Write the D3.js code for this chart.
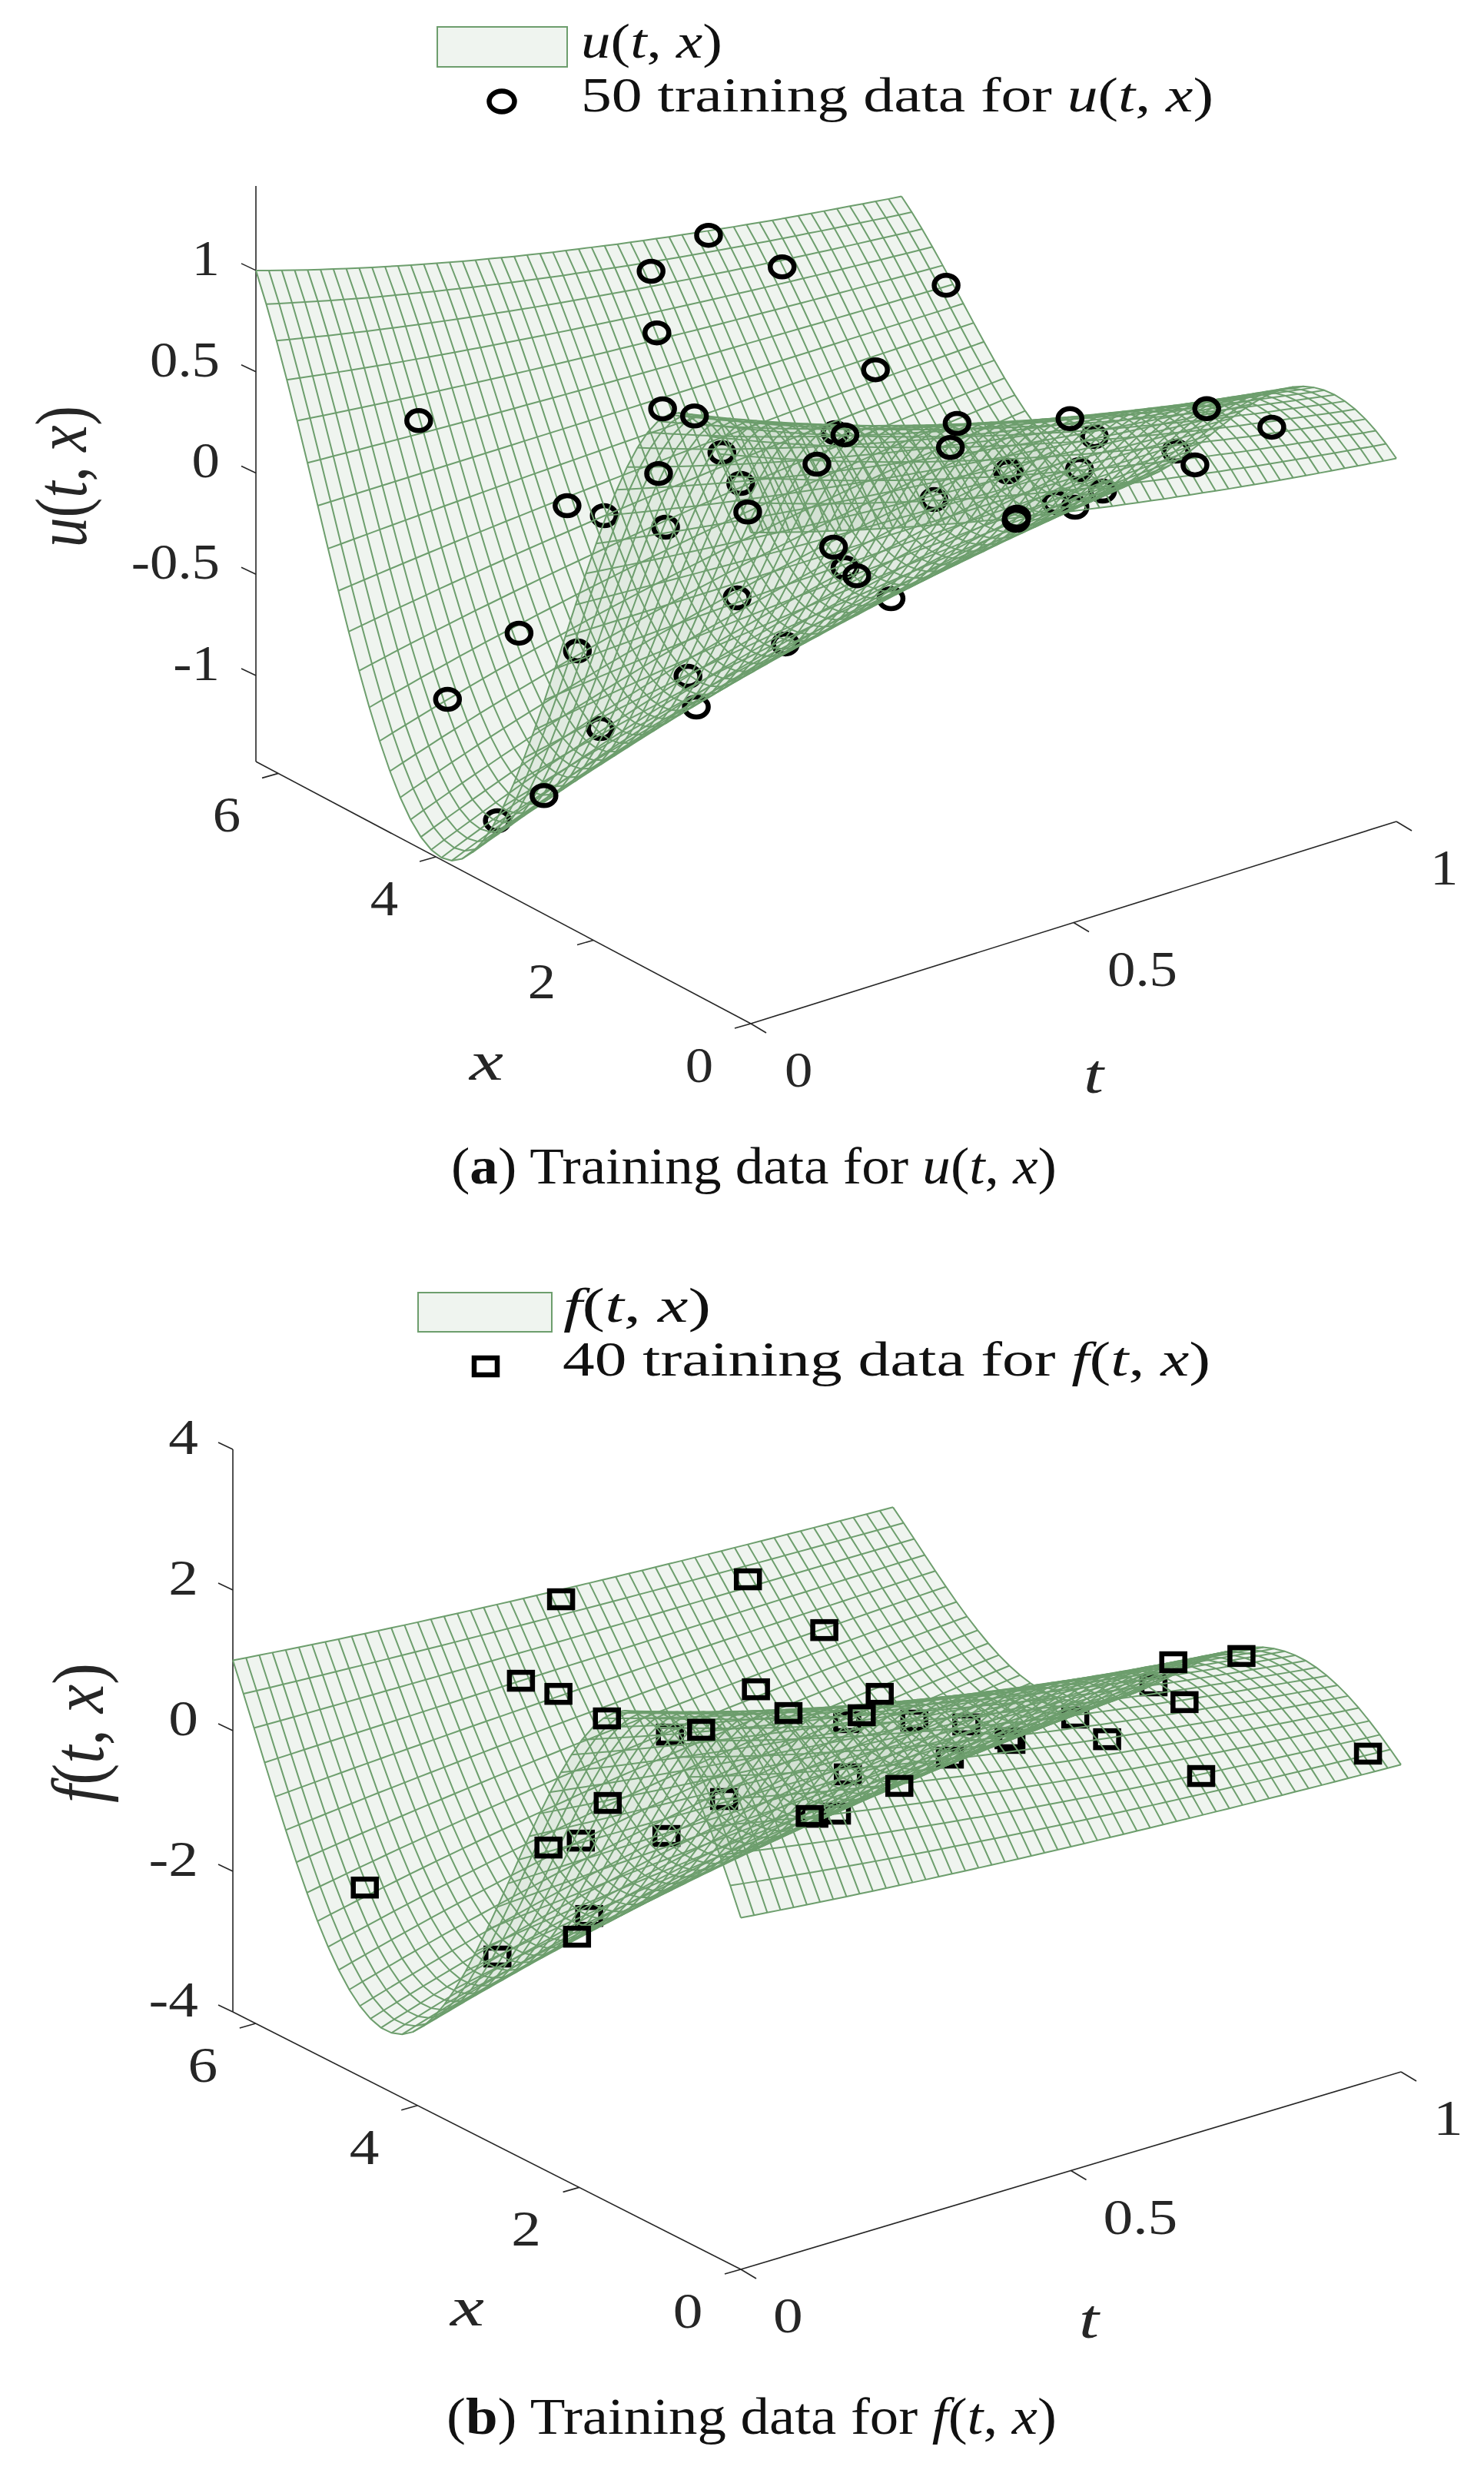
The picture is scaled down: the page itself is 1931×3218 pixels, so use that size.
<!DOCTYPE html>
<html>
<head>
<meta charset="utf-8">
<script src="https://cdn.jsdelivr.net/npm/d3@7"></script>
<style>
  html, body { margin: 0; background: #fff; }
  svg { display: block; }
  text { font-family: "Liberation Serif", serif; fill: #262626; }
  .legend-text, .caption { fill: #111; }
</style>
</head>
<body>
<svg id="chart" width="1931" height="3218"></svg>
<script>
// surface heights, one value per mesh line
const uProfile = [1, 1.122, 1.225, 1.307, 1.366, 1.402, 1.414, 1.402, 1.366, 1.307, 1.225, 1.122, 1, 0.861, 0.707, 0.541, 0.366, 0.185, 0, -0.185, -0.366, -0.541, -0.707, -0.861, -1, -1.122, -1.225, -1.307, -1.366, -1.402, -1.414, -1.402, -1.366, -1.307, -1.225, -1.122, -1, -0.861, -0.707, -0.541, -0.366, -0.185, 0, 0.185, 0.366, 0.541, 0.707, 0.861, 1];
const fProfile = [1, 1.383, 1.742, 2.072, 2.366, 2.62, 2.828, 2.989, 3.098, 3.154, 3.157, 3.105, 3, 2.844, 2.639, 2.389, 2.098, 1.771, 1.414, 1.033, 0.634, 0.224, -0.19, -0.6, -1, -1.383, -1.742, -2.072, -2.366, -2.62, -2.828, -2.989, -3.098, -3.154, -3.157, -3.105, -3, -2.844, -2.639, -2.389, -2.098, -1.771, -1.414, -1.033, -0.634, -0.224, 0.19, 0.6, 1];
// how the profile shrinks along t
const decayByT = [1, 0.98, 0.961, 0.942, 0.923, 0.905, 0.887, 0.869, 0.852, 0.835, 0.819, 0.803, 0.787, 0.771, 0.756, 0.741, 0.726, 0.712, 0.698, 0.684, 0.67, 0.657, 0.644, 0.631, 0.619, 0.607, 0.595, 0.583, 0.571, 0.56, 0.549, 0.538, 0.527, 0.517, 0.507, 0.497, 0.487, 0.477, 0.468, 0.458, 0.449, 0.44, 0.432, 0.423, 0.415, 0.407, 0.399, 0.391, 0.383, 0.375, 0.368];

// training data for u: t, x, value, and whether the mesh is drawn over the marker
const uPointT = [0.691, 0.602, 0.805, 0.998, 0.611, 0.791, 0.242, 0.51, 0.535, 0.643, 0.646, 0.771, 0.724, 0.897, 0.886, 0.999, 0.99, 0.939, 0.932, 0.492, 0.566, 0.394, 0.448, 0.739, 0.742, 0.802, 0.613, 0.789, 0.41, 0.729, 0.734, 0.656, 0.655, 0.24, 0.261, 0.295, 0.421, 0.402, 0.396, 0.388, 0.235, 0.2, 0.049, 0.001, 0.007, 0.012, 0.006, 0.011, 0.009, 0.01];
const uPointX = [6.2, 6.2, 6.2, 5.7, 6.2, 4.9, 6.2, 5.3, 5.1, 4.2, 4.1, 3.7, 3.4, 3.3, 2.9, 2.4, 1.5, 2.3, 2, 4.4, 3.8, 4.4, 3.8, 2.8, 2.8, 2.4, 2.7, 2, 3.4, 2.1, 1.9, 2, 2, 4.3, 4, 3.5, 2.4, 2.1, 1.9, 1.4, 2.1, 1.2, 1.2, 0.7, 3, 2.3, 3.9, 2, 2.7, 3.3];
const uPointV = [0.501, 0.412, 0.231, 0.051, 0.099, 0.005, 0.034, 0.01, -0.009, -0.014, -0.007, 0.007, -0.003, -0.013, -0.008, 0.12, 0.223, -0.009, -0.008, -0.003, -0.01, -0.008, 0.013, -0.015, -0.01, 0.016, -0.005, 0.005, -0.008, -0.012, 0.001, 0.009, -0.005, 0.007, -0.001, 0.011, 0.013, -0.008, 0, -0.002, 0.01, 0.003, -0.006, -0.007, -0.122, -0.07, -0.633, -0.391, -0.864, -1.113];
const uPointBehind = [0, 0, 0, 0, 0, 0, 0, 0, 0, 1, 0, 0, 0, 0, 1, 0, 0, 1, 0, 1, 0, 0, 1, 1, 1, 1, 1, 1, 0, 1, 1, 0, 0, 0, 1, 1, 0, 1, 0, 1, 1, 1, 1, 1, 0, 1, 0, 1, 0, 1];

// training data for f
const fPointT = [0.77, 0.751, 0.487, 0.365, 0.385, 0.385, 0.574, 0.688, 0.562, 0.624, 0.602, 0.442, 0.407, 0.667, 0.709, 0.724, 0.825, 0.998, 0.991, 0.968, 0.966, 0.812, 0.635, 0.999, 0.832, 0.505, 0.534, 0.342, 0.386, 0.393, 0.415, 0.218, 0.227, 0.076, 0.125, 0.006, 0.003, 0.009, 0.011, 0.716];
const fPointX = [6.2, 5.1, 6.2, 5.7, 5.4, 4.8, 4.5, 3.9, 4, 3.6, 3.6, 4.1, 4.2, 3.3, 3, 2.6, 2.6, 2.8, 1.9, 2.8, 2.4, 2.1, 2.6, 0.4, 1.1, 2.8, 2.4, 3, 2.3, 2.3, 2.2, 2.7, 3.5, 3, 3, 4.7, 1.9, 2.1, 3.1, 2.5];
const fPointV = [0.038, 0.01, 0.549, 0.024, -0.044, -0.043, 0.015, -0.021, 0.002, 0.03, -0.007, 0.043, 0.014, 0.007, 0.01, 0.004, 0.014, 0.199, 0.832, -0.045, -0.045, 0.035, -0.021, 0.295, 0.038, -0.011, -0.023, -0.02, 0.023, -0.008, 0.033, -0.022, -0.044, 0.037, -0.002, -1.326, -0.09, -0.518, -1.389, 0.019];
const fPointBehind = [0, 0, 0, 0, 0, 0, 0, 0, 0, 0, 1, 0, 1, 1, 1, 1, 1, 0, 0, 1, 0, 1, 1, 0, 0, 1, 0, 1, 0, 1, 1, 1, 0, 0, 1, 0, 1, 0, 1, 1];

// tick labels
const uZTicks = [1, 0.5, 0, -0.5, -1];
const fZTicks = [4, 2, 0, -2, -4];
const xTicks = [0, 2, 4, 6];
const tTicks = [0, 0.5, 1];

const meshColor = "#6d9e6d";
const svg = d3.select("#chart");

const xGrid = d3.range(uProfile.length).map((i) => (i / (uProfile.length - 1)) * 2 * Math.PI);
const tGrid = d3.range(decayByT.length).map((i) => i / (decayByT.length - 1));

function stretchedText(g, x, y, label, size, stretch, anchor) {
  return g
    .append("text")
    .attr("transform", `translate(${x},${y}) scale(${stretch},1)`)
    .attr("text-anchor", anchor)
    .style("font-size", size + "px")
    .text(label);
}

function fitText(g, x, y, size, width, parts, cls) {
  const text = g
    .append("text")
    .attr("class", cls)
    .attr("x", x)
    .attr("y", y)
    .attr("textLength", width)
    .attr("lengthAdjust", "spacingAndGlyphs")
    .style("font-size", size + "px");
  parts.forEach((p) => {
    text
      .append("tspan")
      .style("font-style", p.italic ? "italic" : "normal")
      .style("font-weight", p.bold ? "bold" : "normal")
      .text(p.s);
  });
  return text;
}

function drawPanel(p) {
  const g = svg.append("g");
  const tX = d3.scaleLinear().domain([0, 1]).range([0, p.tVec[0]]);
  const tY = d3.scaleLinear().domain([0, 1]).range([0, p.tVec[1]]);
  const xX = d3.scaleLinear().domain([0, 2 * Math.PI]).range([0, p.xVec[0]]);
  const xY = d3.scaleLinear().domain([0, 2 * Math.PI]).range([0, p.xVec[1]]);
  const zY = d3.scaleLinear().domain(p.zDomain).range([0, -p.zHeight]);
  const project = (t, x, z) => [
    p.origin[0] + tX(t) + xX(x),
    p.origin[1] + tY(t) + xY(x) + zY(z),
  ];
  const zMin = p.zDomain[0];
  const zMax = p.zDomain[1];
  const xEnd = 2 * Math.PI;
  const line = d3.line();
  const closed = d3.line().curve(d3.curveLinearClosed);

  // Axes
  const axes = g.append("g").attr("fill", "none").attr("stroke", "#262626").attr("stroke-width", 1.6);
  axes.append("path").attr("d", line([project(0, xEnd, zMin), project(0, xEnd, zMax)]));
  axes.append("path").attr("d", line([project(0, xEnd, zMin), project(0, 0, zMin)]));
  axes.append("path").attr("d", line([project(0, 0, zMin), project(1, 0, zMin)]));

  const tickPath = (pt, d) => line([pt, [pt[0] + d[0], pt[1] + d[1]]]);
  p.zTicks.forEach((z) => {
    const pt = project(0, xEnd, z);
    axes.append("path").attr("d", tickPath(pt, [-19, -9]));
    stretchedText(g, pt[0] + p.zLabel[0], pt[1] + p.zLabel[1], z, 65, p.stretch, "end");
  });
  xTicks.forEach((x) => {
    const pt = project(0, x, zMin);
    axes.append("path").attr("d", tickPath(pt, [-21, 6]));
    stretchedText(g, pt[0] + p.xLabel[0], pt[1] + p.xLabel[1], x, 65, p.stretch, "middle");
  });
  tTicks.forEach((t) => {
    const pt = project(t, 0, zMin);
    axes.append("path").attr("d", tickPath(pt, [20, 12]));
    stretchedText(g, pt[0] + p.tLabel[0], pt[1] + p.tLabel[1], t, 65, p.stretch, "start");
  });

  // Surface cells, the overlap of the fold comes out darker through the alpha
  const height = (i, j) => p.profile[i] * decayByT[j];
  const cells = [];
  d3.range(xGrid.length - 1).forEach((i) => {
    d3.range(tGrid.length - 1).forEach((j) => {
      cells.push([
        project(tGrid[j], xGrid[i], height(i, j)),
        project(tGrid[j + 1], xGrid[i], height(i, j + 1)),
        project(tGrid[j + 1], xGrid[i + 1], height(i + 1, j + 1)),
        project(tGrid[j], xGrid[i + 1], height(i + 1, j)),
      ]);
    });
  });
  g.append("g")
    .attr("fill", meshColor)
    .attr("fill-opacity", 0.108)
    .attr("shape-rendering", "crispEdges")
    .selectAll("path")
    .data(cells)
    .join("path")
    .attr("d", (d) => closed(d));

  const points = p.pointT.map((t, i) => ({
    t: t,
    x: p.pointX[i],
    v: p.pointV[i],
    behind: p.pointBehind[i] === 1,
  }));

  function drawMarkers(layer, data) {
    if (p.marker === "circle") {
      layer
        .selectAll("ellipse")
        .data(data)
        .join("ellipse")
        .attr("cx", (d) => project(d.t, d.x, d.v)[0])
        .attr("cy", (d) => project(d.t, d.x, d.v)[1])
        .attr("rx", 15.5)
        .attr("ry", 13)
        .attr("fill", "none")
        .attr("stroke", "#000")
        .attr("stroke-width", 6.5);
    } else {
      layer
        .selectAll("rect")
        .data(data)
        .join("rect")
        .attr("x", (d) => project(d.t, d.x, d.v)[0] - 15)
        .attr("y", (d) => project(d.t, d.x, d.v)[1] - 11)
        .attr("width", 30)
        .attr("height", 22)
        .attr("fill", "none")
        .attr("stroke", "#000")
        .attr("stroke-width", 6.5);
    }
  }

  drawMarkers(g.append("g"), points.filter((d) => d.behind));

  // Mesh lines, both directions
  const mesh = g
    .append("g")
    .attr("fill", "none")
    .attr("stroke", meshColor)
    .attr("stroke-width", 2);
  xGrid.forEach((x, i) => {
    mesh.append("path").attr("d", line(tGrid.map((t, j) => project(t, x, height(i, j)))));
  });
  tGrid.forEach((t, j) => {
    mesh.append("path").attr("d", line(xGrid.map((x, i) => project(t, x, height(i, j)))));
  });

  drawMarkers(g.append("g"), points.filter((d) => !d.behind));

  // Axis letters
  const vLabel = g.append("g").attr("transform", `translate(${p.yName.x},${p.yName.y}) rotate(-90)`);
  fitText(vLabel, -p.yName.len / 2, 0, 96, p.yName.len, [
    { s: p.name, italic: true },
    { s: "(" },
    { s: "t", italic: true },
    { s: ", " },
    { s: "x", italic: true },
    { s: ")" },
  ]);
  fitText(g, p.xName[0] - 22, p.xName[1], 72, 44, [{ s: "x", italic: true }]);
  fitText(g, p.tName[0] - 13, p.tName[1], 72, 26, [{ s: "t", italic: true }]);

  // Legend
  g.append("rect")
    .attr("x", p.legend.box[0])
    .attr("y", p.legend.box[1])
    .attr("width", p.legend.box[2])
    .attr("height", p.legend.box[3])
    .attr("fill", "#eff4ef")
    .attr("stroke", meshColor)
    .attr("stroke-width", 2);
  fitText(g, p.legend.line1[0], p.legend.line1[1], 64, p.legend.line1[2], [
    { s: p.name, italic: true },
    { s: "(" },
    { s: "t", italic: true },
    { s: ", " },
    { s: "x", italic: true },
    { s: ")" },
  ], "legend-text");
  fitText(g, p.legend.line2[0], p.legend.line2[1], 64, p.legend.line2[2], [
    { s: p.count + " training data for " },
    { s: p.name, italic: true },
    { s: "(" },
    { s: "t", italic: true },
    { s: ", " },
    { s: "x", italic: true },
    { s: ")" },
  ], "legend-text");
  if (p.marker === "circle") {
    g.append("ellipse")
      .attr("cx", p.legend.marker[0])
      .attr("cy", p.legend.marker[1])
      .attr("rx", 16.5)
      .attr("ry", 13.5)
      .attr("fill", "none")
      .attr("stroke", "#000")
      .attr("stroke-width", 6.5);
  } else {
    g.append("rect")
      .attr("x", p.legend.marker[0] - 15)
      .attr("y", p.legend.marker[1] - 11)
      .attr("width", 30)
      .attr("height", 22)
      .attr("fill", "none")
      .attr("stroke", "#000")
      .attr("stroke-width", 6.5);
  }

  // Caption
  fitText(g, p.caption[0], p.caption[1], 68, p.caption[2], [
    { s: "(" },
    { s: p.tag, bold: true },
    { s: ")  Training data for " },
    { s: p.name, italic: true },
    { s: "(" },
    { s: "t", italic: true },
    { s: ", " },
    { s: "x", italic: true },
    { s: ")" },
  ], "caption");
}

drawPanel({
  name: "u",
  tag: "a",
  count: 50,
  marker: "circle",
  profile: uProfile,
  pointT: uPointT,
  pointX: uPointX,
  pointV: uPointV,
  pointBehind: uPointBehind,
  origin: [977, 1332],
  tVec: [840, -263],
  xVec: [-644, -341],
  zDomain: [-1.425, 1.417],
  zHeight: 749,
  zTicks: uZTicks,
  stretch: 1.12,
  zLabel: [-47, 6],
  xLabel: [-67, 76],
  tLabel: [44, 82],
  yName: { x: 112, y: 620, len: 184 },
  xName: [633, 1405],
  tName: [1423, 1422],
  legend: {
    box: [569, 35, 169, 52],
    line1: [756, 75, 184],
    line2: [756, 145, 823],
    marker: [653, 132],
  },
  caption: [587, 1540, 788],
});

drawPanel({
  name: "f",
  tag: "b",
  count: 40,
  marker: "square",
  profile: fProfile,
  pointT: fPointT,
  pointX: fPointX,
  pointV: fPointV,
  pointBehind: fPointBehind,
  origin: [964, 2953],
  tVec: [859, -257],
  xVec: [-661, -335],
  zDomain: [-4, 4],
  zHeight: 732,
  zTicks: fZTicks,
  stretch: 1.19,
  zLabel: [-45, 6],
  xLabel: [-69, 76],
  tLabel: [42, 82],
  yName: { x: 134, y: 2255, len: 182 },
  xName: [608, 3026],
  tName: [1417, 3042],
  legend: {
    box: [544, 1682, 174, 51],
    line1: [733, 1720, 192],
    line2: [732, 1790, 843],
    marker: [632, 1778],
  },
  caption: [581, 3167, 794],
});
</script>
</body>
</html>
